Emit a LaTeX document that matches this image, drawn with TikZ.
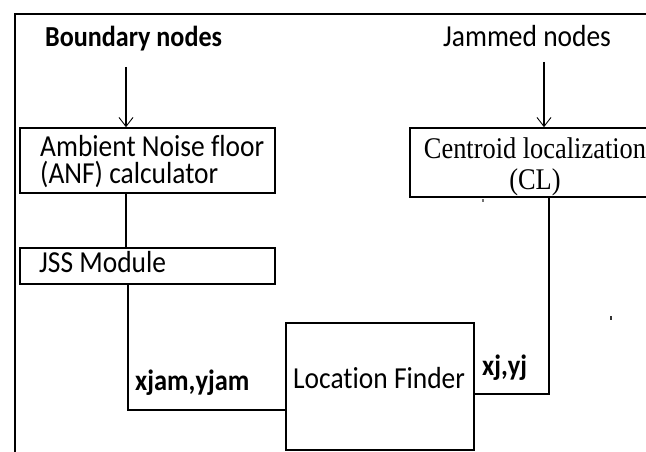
\documentclass[tikz,border=0pt]{standalone}
\usepackage{fontspec}
\setmainfont{Carlito}[FakeStretch=0.9, Ligatures=NoCommon]
\newfontfamily\clfont{Liberation Serif}[FakeStretch=0.88, Ligatures=NoCommon]
\usetikzlibrary{arrows.meta}
\begin{document}
\begin{tikzpicture}[x=1pt,y=-1pt,
  box/.style={draw, line width=1.6pt, rectangle, inner sep=0pt},
  conn/.style={line width=1.3pt},
  arr/.style={line width=1.3pt, -{Straight Barb[length=9pt,width=14pt,line width=0.9pt]}},
  txt/.style={inner sep=0pt, anchor=base west, font=\fontsize{30.5}{27}\selectfont},
  btxt/.style={inner sep=0pt, anchor=base west, font=\fontsize{29.4}{29.4}\selectfont\bfseries},
  ctxt/.style={inner sep=0pt, anchor=base, font=\fontsize{30}{32}\selectfont\clfont}]
\useasboundingbox (0,0) rectangle (646,452);

% outer frame (open at the right and bottom)
\draw[line width=1.8pt] (15,470) -- (15,14) -- (670,14);

% blocks
\node[box, minimum width=255pt, minimum height=65pt] (anf) at (147.5,160.5) {};
\node[box, minimum width=255pt, minimum height=36pt] (jss) at (147.5,266) {};
\node[box, minimum width=188pt, minimum height=127pt] (loc) at (380,386.5) {};
\node[box, minimum width=270pt, minimum height=69pt] (cl) at (545,162.5) {};

% texts
\node[btxt, font=\fontsize{29}{29}\selectfont\bfseries] (bnd) at (45,47) {Boundary nodes};
\node[txt] (jam) at (443,47) {Jammed nodes};
\node[txt] (anft) at (40,157)
  {\parbox[t]{230pt}{\raggedright Ambient Noise floor\\(ANF) calculator}};
\node[txt] (jsst) at (39,272) {JSS Module};
\node[txt] (loct) at (293,388) {Location Finder};
\node[ctxt] (clt) at (535,158)
  {\parbox[t]{250pt}{\centering Centroid localization\\(CL)}};
\node[btxt] (xy1) at (135,390) {xjam,yjam};
\node[btxt] (xy2) at (482,375) {xj,yj};

% connectors
\coordinate (bndTail) at (126,67);
\coordinate (jamTail) at (544,62);
\draw[arr] (bndTail) -- (bndTail |- anf.north);
\draw[arr] (jamTail) -- (jamTail |- cl.north);
\draw[conn] (anf.south -| bndTail) -- (jss.north -| bndTail);
\draw[conn] ([xshift=-19.5pt]jss.south) |- ([yshift=-23.5pt]loc.west);
\draw[conn] ([yshift=-7.5pt]loc.east) -| ([xshift=4pt]cl.south);

% stray specks
\fill[black!55] (482,199) rectangle (484,202);
\fill[black!80] (610,316) rectangle (612,320);
\end{tikzpicture}
\end{document}
